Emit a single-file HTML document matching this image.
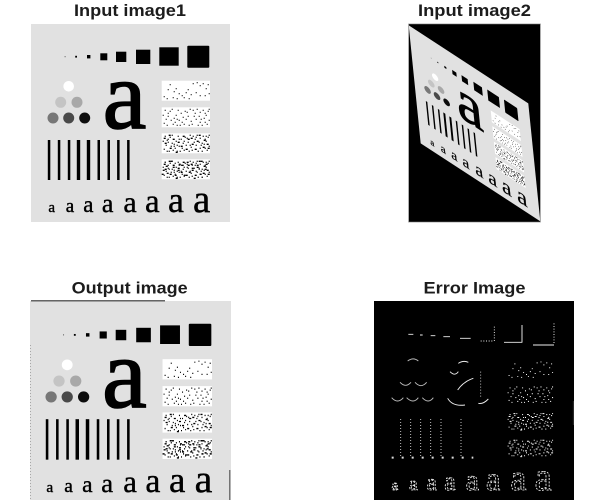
<!DOCTYPE html>
<html lang="en">
<head>
<meta charset="utf-8">
<title>Input, output and error images</title>
<style>
html,body{margin:0;padding:0;background:#fff;width:599px;height:501px;overflow:hidden}
svg{display:block}
.title{font-family:"Liberation Sans",sans-serif;font-weight:700;font-size:16.5px;fill:#1c1c1c;text-anchor:middle}
.a{font-family:"Liberation Serif",serif;text-anchor:middle;fill:#000;stroke:#000;stroke-width:.4}
.big{font-family:"Liberation Serif",serif;text-anchor:middle;fill:#000;stroke:#000;stroke-width:1.6}
.ea{font-family:"Liberation Serif",serif;text-anchor:middle;fill:none;stroke:#eee;stroke-width:2.6;stroke-dasharray:6 4}
</style>
</head>
<body>
<svg width="599" height="501" viewBox="0 0 599 501" xmlns="http://www.w3.org/2000/svg">
<defs>
<filter id="soft" x="-5%" y="-5%" width="110%" height="110%"><feGaussianBlur stdDeviation="0.34"/></filter>
<clipPath id="clip2"><rect x="409" y="24" width="131" height="198"/></clipPath>
<path id="dotsA" d="M8 4h1M14 8h1M12 11h1M17 13h1M20 15h1M24 12h1M26 9h1M29 14h1M31 3h1M35 2h1M38 5h1M41 3h1M44 8h1M46 4h1M34 12h1M38 15h1M2 16h1M5 18h1M11 17h1M15 18h1M22 17h1M27 18h1M43 15h1M47 13h1M6 9h1"/>
<path id="dotsB" d="M3 3h1M6 6h1M10 2h1M16 3h1M19 6h1M23 4h1M28 2h1M33 6h1M37 9h1M42 11h1M45 17h1M40 18h1M36 18h1M30 17h1M25 5h1M21 10h1M15 12h1M9 13h1M4 12h1M1 8h1M13 15h1M18 18h1M32 9h1M47 2h1M43 6h1M39 12h1"/>
<path id="dotsC" d="M2 5h2M7 2h2M11 6h2M16 9h2M21 3h2M26 6h2M30 11h2M35 8h2M41 14h2M45 11h2M3 10h2M8 15h2M14 19h2M19 13h2M24 16h2M29 5h2M33 16h2M37 2h2M42 7h2M46 15h2M5 7h1M10 10h1M17 6h1M22 8h1M28 12h1M34 4h1M40 10h1M44 3h1M7 18h1M12 13h1"/>
<g id="target-shapes">
<g fill="#000">
<rect x="64.6" y="56.2" width="1" height="1" fill="#555"/>
<rect x="75.2" y="55.8" width="1.8" height="1.8"/>
<rect x="87" y="55" width="3.4" height="3.4"/>
<rect x="100.3" y="53.3" width="7" height="7"/>
<rect x="116" y="51.7" width="10.3" height="10.3"/>
<rect x="136" y="49.7" width="14.3" height="14.3"/>
<rect x="159.3" y="47.3" width="19.4" height="18.4"/>
<rect x="187.3" y="45.7" width="22" height="22" rx="1"/>
</g>
<circle cx="68.7" cy="86.3" r="5.3" fill="#fff"/>
<circle cx="60.7" cy="102.3" r="5.5" fill="#c4c4c4"/>
<circle cx="77" cy="102.3" r="5.5" fill="#a8a8a8"/>
<circle cx="53" cy="118" r="5.5" fill="#777"/>
<circle cx="68.7" cy="118" r="5.5" fill="#4a4a4a"/>
<circle cx="84.7" cy="118" r="5.5" fill="#111"/>
<g fill="#000">
<rect x="47.800" y="140" width="2.500" height="40"/><rect x="57.800" y="140" width="2.500" height="40"/><rect x="67.800" y="140" width="2.500" height="40"/>
<rect x="76.800" y="140" width="3.400" height="40"/><rect x="86.800" y="140" width="3.400" height="40"/><rect x="97.500" y="140" width="2.500" height="40"/>
<rect x="107.500" y="140" width="2.500" height="40"/><rect x="117.100" y="140" width="2.500" height="40"/><rect x="127.100" y="140" width="2.500" height="40"/>
</g>
<g transform="translate(161.700 80.700)" stroke-width="1.2"><rect width="48.300" height="20" fill="#fff"/><use href="#dotsA" stroke="#000" fill="none"/></g>
<g transform="translate(161.700 107.300)" stroke-width="1.2"><rect width="48.300" height="20" fill="#fff"/><use href="#dotsA" stroke="#000" fill="none"/><use href="#dotsB" stroke="#000" fill="none"/></g>
<g transform="translate(161.700 133.300)" stroke-width="1.3"><rect width="48.300" height="20" fill="#fff"/><use href="#dotsA" stroke="#000" fill="none"/><use href="#dotsB" stroke="#000" fill="none"/><use href="#dotsC" stroke="#000" fill="none"/></g>
<g transform="translate(161.700 159.300)" stroke-width="1.4"><rect width="48.300" height="20" fill="#fff"/><use href="#dotsA" stroke="#000" fill="none"/><use href="#dotsB" stroke="#000" fill="none"/><use href="#dotsC" stroke="#000" fill="none"/><use href="#dotsC" stroke="#111" fill="none" transform="translate(48 0) scale(-1 1)"/></g>
</g>
</defs>

<text class="title" x="130" y="16" textLength="112" lengthAdjust="spacingAndGlyphs">Input image1</text>
<text class="title" x="474.500" y="16" textLength="113" lengthAdjust="spacingAndGlyphs">Input image2</text>
<text class="title" x="129.700" y="293.500" textLength="116" lengthAdjust="spacingAndGlyphs">Output image</text>
<text class="title" x="474.500" y="293.500" textLength="102" lengthAdjust="spacingAndGlyphs">Error Image</text>

<g filter="url(#soft)">
<rect x="31" y="24" width="199" height="198" fill="#e1e1e1"/>
<use href="#target-shapes"/>
<text class="big" x="124.500" y="128" font-size="98">a</text>
<g>
<text class="a" x="51.700" y="212" font-size="15">a</text><text class="a" x="70" y="212" font-size="19">a</text><text class="a" x="88.300" y="212" font-size="23">a</text><text class="a" x="107.700" y="212" font-size="26">a</text><text class="a" x="130" y="212" font-size="30">a</text><text class="a" x="152.300" y="212" font-size="33">a</text><text class="a" x="176" y="212" font-size="36">a</text><text class="a" x="201.700" y="212" font-size="39">a</text>
</g>
</g>

<g filter="url(#soft)">
<rect x="409" y="24" width="131" height="198" fill="#000"/>
<rect x="408.500" y="24" width="132" height="198" fill="none" stroke="#777" stroke-width="0.6"/>
<g clip-path="url(#clip2)">
<g transform="matrix(0.601 0.392 0.0606 0.596 388.6 -1.15)">
<rect x="31" y="24" width="199" height="198" fill="#e1e1e1"/>
<use href="#target-shapes"/>
<text class="big" x="124.500" y="128" font-size="98">a</text>
<text class="a" x="51.700" y="212" font-size="15">a</text><text class="a" x="70" y="212" font-size="19">a</text><text class="a" x="88.300" y="212" font-size="23">a</text><text class="a" x="107.700" y="212" font-size="26">a</text><text class="a" x="130" y="212" font-size="30">a</text><text class="a" x="152.300" y="212" font-size="33">a</text><text class="a" x="176" y="212" font-size="36">a</text><text class="a" x="201.700" y="212" font-size="39">a</text>
</g>
</g>
</g>

<g filter="url(#soft)">
<rect x="30" y="301" width="201" height="199" fill="#e1e1e1"/>
<g transform="matrix(1.025 0 0 1.012 -3.2 277.5)">
<use href="#target-shapes"/>
<text class="big" x="124.500" y="128" font-size="98">a</text>
<text class="a" x="51.700" y="212" font-size="15">a</text><text class="a" x="70" y="212" font-size="19">a</text><text class="a" x="88.300" y="212" font-size="23">a</text><text class="a" x="107.700" y="212" font-size="26">a</text><text class="a" x="130" y="212" font-size="30">a</text><text class="a" x="152.300" y="212" font-size="33">a</text><text class="a" x="176" y="212" font-size="36">a</text><text class="a" x="201.700" y="212" font-size="39">a</text>
</g>
<path d="M31 300.800H165" stroke="#333" stroke-width="1.2"/>
<path d="M229.800 470V500" stroke="#444" stroke-width="1"/>
<path d="M30.500 345V500" stroke="#999" stroke-width="0.8" stroke-dasharray="1 2"/>
</g>

<g filter="url(#soft)">
<rect x="374" y="301" width="200" height="199" fill="#000"/>
<g transform="translate(365 275) scale(0.33333)" fill="none" stroke="#eee" stroke-width="2.800">
<path d="M130 178h15M165 180h8M197 182h14M235 185h20M285 190h32M417 202h55M504 210h63M471 150v52"/>
<path stroke-dasharray="3 5" d="M347 198h40M388 155v43M567 145v62"/>
<path d="M80 368Q98 388 115 368M125 368Q145 388 160 368M172 368Q190 388 205 368M105 322Q122 340 138 322M150 322Q168 342 185 322M128 258Q145 245 160 258" stroke="#bbb"/>
<path d="M248 370Q262 395 300 390M278 345Q295 320 325 310M255 290Q270 305 280 290M280 265Q295 255 310 262M340 385Q355 388 370 372"/>
<path stroke-dasharray="3 6" d="M347 290V370M107 432V548M167 432V548M197 432V548M228 432V548M288 432V548M137 432V548" stroke="#ccc"/>
<path stroke-dasharray="6 24" stroke-width="6" d="M80 548H325" stroke="#ddd"/>
<path stroke-dasharray="2 4" d="M625 380V450" stroke="#888"/>
<g stroke="#fff">
<g transform="translate(425 255) scale(2.900)"><use href="#dotsA" stroke-width="1"/></g>
<g transform="translate(425 330) scale(2.900)"><use href="#dotsA" stroke-width="1.1"/><use href="#dotsB" stroke-width="1.1"/></g>
<g transform="translate(425 410) scale(2.900)"><use href="#dotsA" stroke-width="1.1"/><use href="#dotsB" stroke-width="1.1"/><use href="#dotsC" stroke-width="1"/></g>
<g transform="translate(425 490) scale(2.900)"><use href="#dotsA" stroke-width="1.1"/><use href="#dotsB" stroke-width="1.1"/><use href="#dotsC" stroke-width="1"/></g>
</g>
</g>
<g transform="translate(365 275) scale(0.33333)">
<text class="ea" x="90" y="645" font-size="45">a</text><text class="ea" x="145" y="645" font-size="57">a</text><text class="ea" x="200" y="645" font-size="69">a</text><text class="ea" x="255" y="645" font-size="78">a</text><text class="ea" x="322" y="645" font-size="90">a</text><text class="ea" x="385" y="645" font-size="99">a</text><text class="ea" x="460" y="645" font-size="108">a</text><text class="ea" x="535" y="645" font-size="117">a</text>
</g>
</g>
</svg>
</body>
</html>
